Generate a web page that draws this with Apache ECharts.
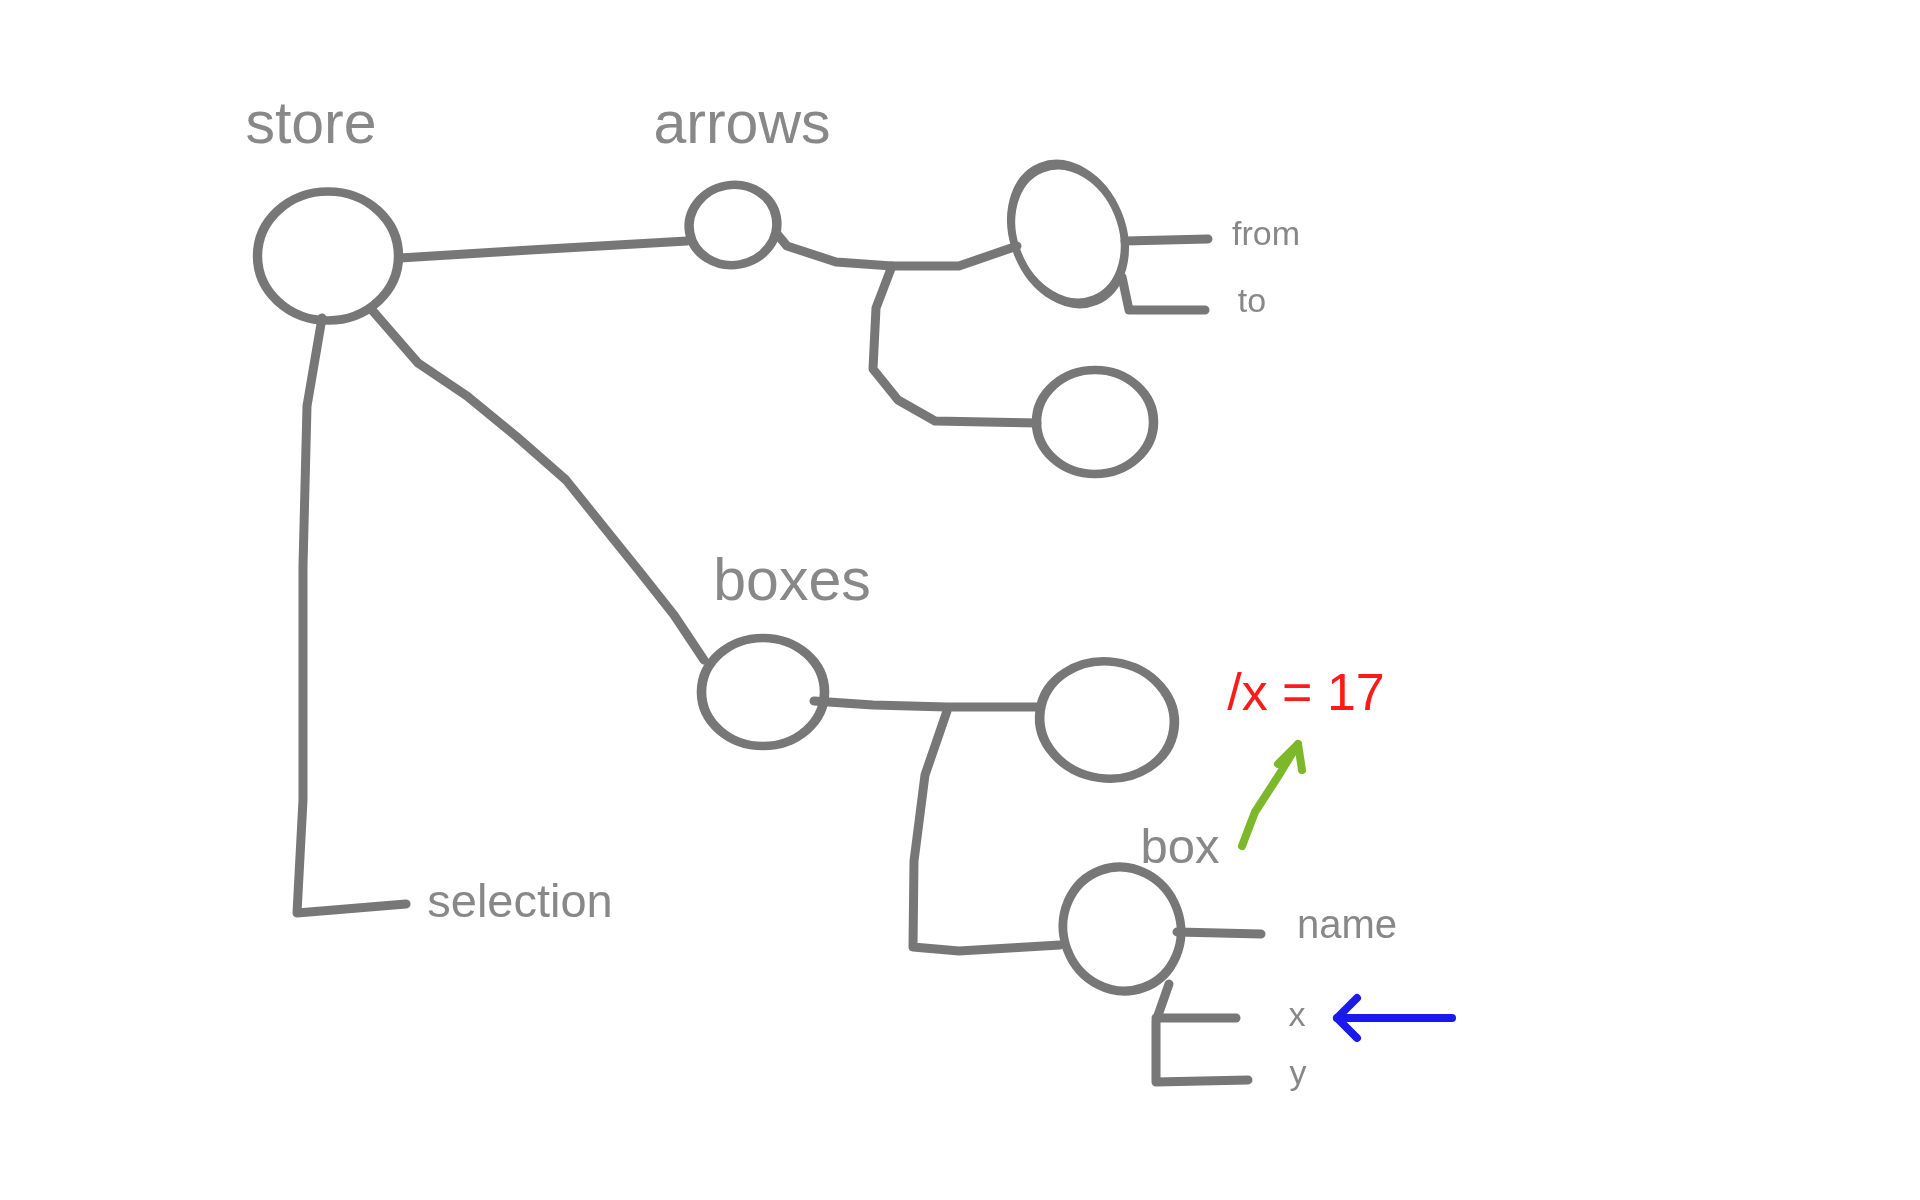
<!DOCTYPE html>
<html><head><meta charset="utf-8">
<script src="https://cdn.jsdelivr.net/npm/echarts@6/dist/echarts.min.js"></script>
<style>html,body{margin:0;padding:0;background:#fff}#c{width:1920px;height:1200px}</style>
</head><body><div id="c"></div>
<script>
// Node ellipses: [x, y, width, height, rotation]
const nodes = [
  [328,256,141,129,0],
  [733,225,88,80,10],
  [1068,234,108,143,22],
  [1095,422,117,104,0],
  [763,692,123,108,0],
  [1107,720,135,117,-8],
  [1122,929,117,125,20]
];
// Connector paths (gray)
const paths = [
  [[400,258],[530,250],[687,241]],
  [[372,310],[418,363],[467,396],[517,437],[566,480],[615,541],[640,572],[674,615],[704,660]],
  [[322,318],[307,406],[303,566],[303,800],[297,913],[406,904]],
  [[777,234],[787,246],[836,262],[892,266],[959,266],[1017,246]],
  [[892,266],[876,308],[873,369],[898,400],[935,421],[1037,423]],
  [[1125,241],[1208,239]],
  [[1122,277],[1129,310],[1205,310]],
  [[814,701],[873,705],[947,707],[1037,707]],
  [[947,711],[925,775],[914,861],[913,947],[959,951],[1060,945]],
  [[1177,932],[1261,934]],
  [[1169,984],[1156,1021],[1156,1082],[1248,1080]],
  [[1156,1018],[1236,1018]]
];
const greenArrow = [[1242,846],[1255,812],[1279,775],[1298,744]];
const greenHead = [[1278,764],[1298,744],[1302,770]];
const blueArrow = [[1452,1018],[1337,1018]];
const blueHead = [[1357,998],[1337,1018],[1357,1038]];
// Labels: [text, x, y, size, color]
const labels = [
  ['store',311,127,59,'#888'],
  ['arrows',742,127,59,'#888'],
  ['boxes',792,584,59,'#888'],
  ['box',1180,849,49,'#888'],
  ['selection',520,904,47,'#888'],
  ['from',1266,236,34,'#888'],
  ['to',1252,303,34,'#888'],
  ['name',1347,927,40,'#888'],
  ['x',1297,1017,34,'#888'],
  ['y',1298,1075,34,'#888'],
  ['/x = 17',1306,696,52,'#ff1a1a']
];
const gray = '#777';
const series = [];
series.push({
  type:'scatter', silent:true,
  data: nodes.map(n=>({value:[n[0],n[1]], symbolSize:[n[2],n[3]], symbolRotate:n[4]})),
  symbol:'circle',
  itemStyle:{color:'rgba(255,255,255,0)', borderColor:gray, borderWidth:9, opacity:1}
});
paths.forEach(p=>series.push({
  type:'line', data:p, symbol:'none', silent:true,
  lineStyle:{color:gray, width:9, cap:'round', join:'round'}
}));
[[greenArrow,'#7cb82a'],[greenHead,'#7cb82a'],[blueArrow,'#1a1aee'],[blueHead,'#1a1aee']].forEach(a=>series.push({
  type:'line', data:a[0], symbol:'none', silent:true,
  lineStyle:{color:a[1], width:8, cap:'round', join:'round'}
}));
series.push({
  type:'scatter', silent:true, symbolSize:0,
  itemStyle:{opacity:1},
  data: labels.map(l=>({value:[l[1],l[2]], label:{show:true, formatter:l[0], fontSize:l[3], color:l[4], position:'inside', fontFamily:'Liberation Sans, Arial, sans-serif'}}))
});
const chart = echarts.init(document.getElementById('c'));
chart.setOption({
  animation:false,
  grid:{left:0,right:0,top:0,bottom:0},
  xAxis:{type:'value',min:0,max:1920,show:false},
  yAxis:{type:'value',min:0,max:1200,inverse:true,show:false},
  series
});
</script></body></html>
